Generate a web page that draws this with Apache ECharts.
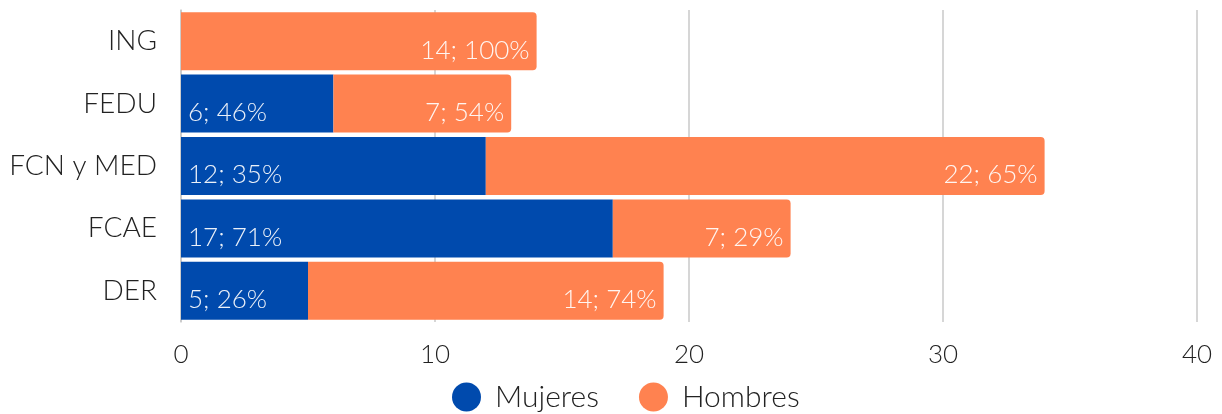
<!DOCTYPE html>
<html>
<head>
<meta charset="utf-8">
<script src="https://cdn.jsdelivr.net/npm/echarts@6/dist/echarts.min.js"></script>
<style>
  html, body { margin: 0; padding: 0; background: #fff; }
  #chart { width: 1222px; height: 414px; }
</style>
</head>
<body>
<div id="chart"></div>
<script>
// categorias (de arriba a abajo en el grafico)
var categorias = ['ING', 'FEDU', 'FCN y MED', 'FCAE', 'DER'];
var mujeres = [0, 6, 12, 17, 5];
var hombres = [14, 7, 22, 7, 14];
var pctMujeres = [0, 46, 35, 71, 26];
var pctHombres = [100, 54, 65, 29, 74];

var fuente = 'Lato';

var chart = echarts.init(document.getElementById('chart'));

function etiqueta(valores, pcts) {
    return function (p) {
        var v = valores[p.dataIndex];
        if (!v) return '';
        return v + '; ' + pcts[p.dataIndex] + '%';
    };
}

var option = {
    animation: false,
    grid: { left: 181, right: 25, top: 10, bottom: 92 },
    legend: {
        top: 377,
        left: 447,
        icon: 'circle',
        itemWidth: 29,
        itemHeight: 29,
        itemGap: 40,
        textStyle: { fontFamily: fuente, fontSize: 30, color: '#222', fontWeight: 300, padding: [0, 0, 0, 9] },
        data: ['Mujeres', 'Hombres']
    },
    xAxis: {
        type: 'value',
        min: 0,
        max: 40,
        interval: 10,
        axisLine: { show: false },
        axisTick: { show: false },
        axisLabel: { fontFamily: fuente, fontSize: 26, color: '#222', margin: 20, fontWeight: 300 },
        splitLine: { lineStyle: { color: '#c8c8c8', width: 1.5 } }
    },
    yAxis: {
        type: 'category',
        inverse: true,
        data: categorias,
        axisLine: { show: true, lineStyle: { color: '#c8c8c8', width: 1.5 } },
        axisTick: { show: false },
        axisLabel: { fontFamily: fuente, fontSize: 28, color: '#222', margin: 24, fontWeight: 300 }
    },
    series: [
        {
            name: 'Mujeres',
            type: 'bar',
            stack: 'total',
            barCategoryGap: '7%',
            data: mujeres,
            itemStyle: { color: '#004AAD' },
            label: {
                show: true,
                position: 'insideBottomLeft',
                distance: 7,
                formatter: etiqueta(mujeres, pctMujeres),
                fontFamily: fuente,
                fontSize: 26,
                fontWeight: 300,
                color: 'rgba(255,255,255,0.92)'
            }
        },
        {
            name: 'Hombres',
            type: 'bar',
            stack: 'total',
            barCategoryGap: '7%',
            data: hombres,
            itemStyle: { color: '#FF8250', borderRadius: [0, 4, 4, 0] },
            label: {
                show: true,
                position: 'insideBottomRight',
                distance: 7,
                formatter: etiqueta(hombres, pctHombres),
                fontFamily: fuente,
                fontSize: 26,
                fontWeight: 300,
                color: 'rgba(255,255,255,0.92)'
            }
        }
    ]
};

chart.setOption(option);
window.addEventListener('resize', function () {
    chart.resize();
});
</script>
</body>
</html>
